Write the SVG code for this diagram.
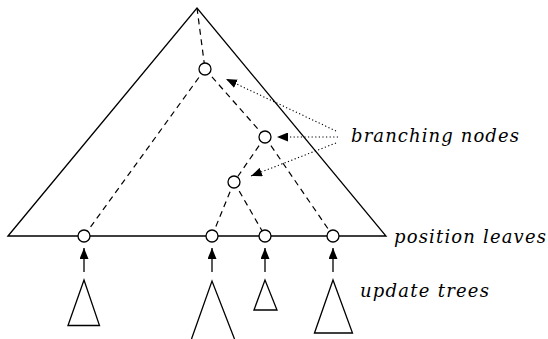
<svg xmlns="http://www.w3.org/2000/svg" width="548" height="339" viewBox="0 0 548 339">
<style>
.solid{fill:none;stroke:#000;stroke-width:1.3;stroke-linejoin:miter}
.dash{fill:none;stroke:#000;stroke-width:1.2;stroke-dasharray:6 4.5}
.dot{fill:none;stroke:#000;stroke-width:1.1;stroke-dasharray:1.2 2.4}
.arr{fill:none;stroke:#000;stroke-width:1.3}
.node{fill:#fff;stroke:#000;stroke-width:1.3}
.lbl{font-family:"DejaVu Serif","Liberation Serif",serif;font-style:italic;font-size:18px;fill:#000}
</style>
<defs>
<marker id="ah" viewBox="0 0 11 9" refX="11" refY="4.5" markerWidth="11" markerHeight="9" markerUnits="userSpaceOnUse" orient="auto">
<path d="M0,0 L11,4.5 L0,9 Z" fill="#000"/>
</marker>
</defs>
<g id="big-tree">
<path class="solid" d="M8,236 L197,8 L386,236 Z"/>
</g>
<g id="connectors">
<line class="dash" x1="197" y1="8" x2="205" y2="69"/>
<line class="dash" x1="205" y1="69" x2="84" y2="236"/>
<line class="dash" x1="205" y1="69" x2="265" y2="137"/>
<line class="dash" x1="265" y1="137" x2="333" y2="236"/>
<line class="dash" x1="265" y1="137" x2="234" y2="182"/>
<line class="dash" x1="234" y1="182" x2="212" y2="236"/>
<line class="dash" x1="234" y1="182" x2="265" y2="236"/>
<line class="dot" x1="336" y1="131" x2="226" y2="79" marker-end="url(#ah)"/>
<line class="dot" x1="338" y1="137" x2="277" y2="137" marker-end="url(#ah)"/>
<line class="dot" x1="336" y1="143" x2="251" y2="176" marker-end="url(#ah)"/>
<line class="arr" x1="84" y1="272" x2="84" y2="248" marker-end="url(#ah)"/>
<line class="arr" x1="212" y1="272" x2="212" y2="248" marker-end="url(#ah)"/>
<line class="arr" x1="265" y1="272" x2="265" y2="248" marker-end="url(#ah)"/>
<line class="arr" x1="333" y1="272" x2="333" y2="248" marker-end="url(#ah)"/>
</g>
<g id="branch-top"><circle class="node" cx="205" cy="69" r="6"/></g>
<g id="branch-mid"><circle class="node" cx="265" cy="137" r="6"/></g>
<g id="branch-low"><circle class="node" cx="234" cy="182" r="6"/></g>
<g id="leaf1"><circle class="node" cx="84" cy="236" r="6"/></g>
<g id="leaf2"><circle class="node" cx="212" cy="236" r="6"/></g>
<g id="leaf3"><circle class="node" cx="265" cy="236" r="6"/></g>
<g id="leaf4"><circle class="node" cx="333" cy="236" r="6"/></g>
<g id="update1"><path class="solid" d="M68,325.5 L84,280 L99.5,325.5 Z"/></g>
<g id="update2"><path class="solid" d="M191.5,339 L212,281 L234.5,339"/></g>
<g id="update3"><path class="solid" d="M254,310 L265,280 L277,310 Z"/></g>
<g id="update4"><path class="solid" d="M314.5,333 L333,280 L352.5,333 Z"/></g>
<g id="labels">
<text class="lbl" x="351" y="142" textLength="168" lengthAdjust="spacing">branching nodes</text>
<text class="lbl" x="394" y="243" textLength="152" lengthAdjust="spacing">position leaves</text>
<text class="lbl" x="360" y="297" textLength="129" lengthAdjust="spacing">update trees</text>
</g>
</svg>
